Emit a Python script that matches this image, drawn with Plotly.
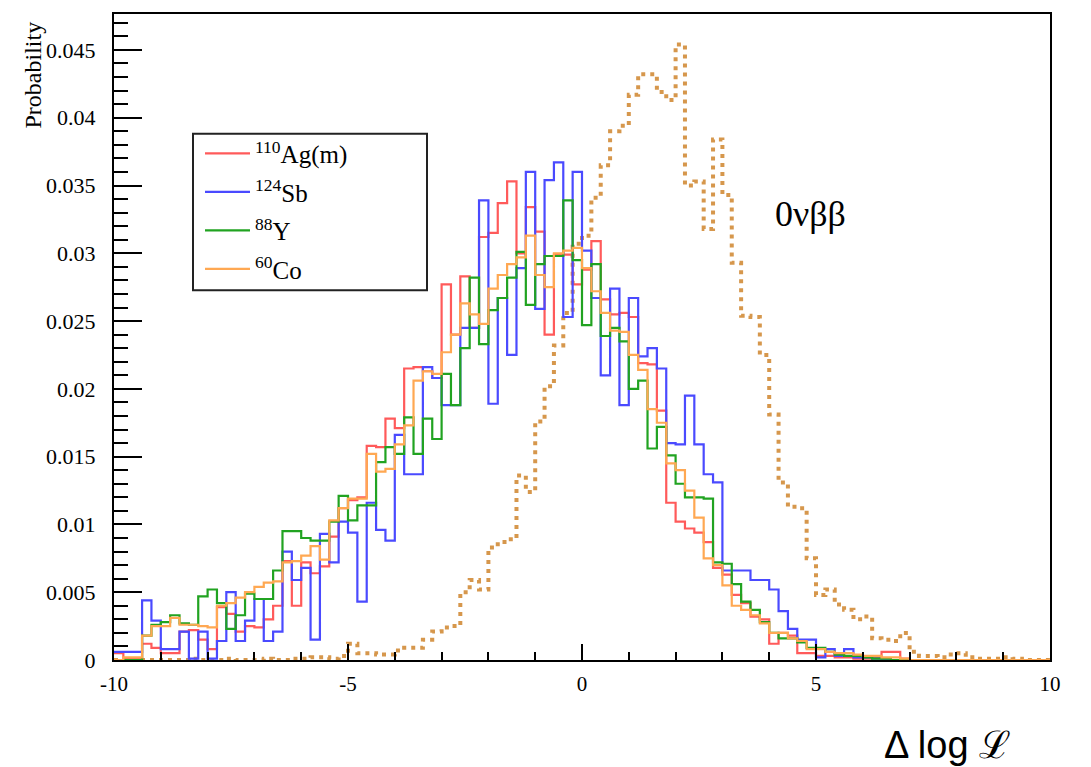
import numpy as np
import plotly.graph_objects as go

# Binning of the Delta log L histograms
BIN_LO, BIN_HI, N_BINS = -10.0, 10.0, 100
bin_edges = np.linspace(BIN_LO, BIN_HI, N_BINS + 1)

# Bin contents in per-mille (probability x 1000), one value per 0.2-wide bin
ag110m = [0.5, 0.1, 0.1, 1.2, 0.9, 0.5, 0.5, 2.1, 2.2, 1.5,
          0.8, 3.9, 3.4, 2.1, 2.5, 2.4, 3.0, 4.0, 7.3, 4.0,
          7.2, 6.4, 6.9, 9.1, 11.2, 11.8, 12.0, 15.8, 15.7, 17.8,
          17.1, 21.5, 21.6, 21.3, 20.8, 27.7, 24.0, 28.3, 24.5, 31.2,
          31.5, 33.7, 35.3, 30.0, 33.4, 31.6, 24.0, 29.9, 29.9, 27.7,
          28.8, 30.9, 26.6, 25.5, 25.6, 25.3, 21.9, 21.8, 18.4, 11.6,
          10.2, 9.7, 9.4, 8.7, 6.8, 6.3, 4.8, 4.2, 3.2, 3.0,
          1.2, 2.0, 1.8, 0.5, 0.5, 0.3, 0.3, 0.2, 0.2, 0.1,
          0.1, 0.2, 0.6, 0.6, 0.1, 0.0, 0.0, 0.0, 0.0, 0.0,
          0.0, 0.0, 0.0, 0.0, 0.0, 0.0, 0.0, 0.0, 0.0, 0.0]

sb124 = [0.6, 0.6, 0.6, 4.4, 2.9, 0.8, 0.8, 2.1, 0.1, 2.1,
         0.1, 1.4, 5.0, 1.4, 2.9, 4.5, 1.4, 2.1, 8.0, 5.9,
         6.8, 1.5, 9.3, 7.2, 10.2, 9.4, 4.3, 11.6, 9.6, 8.8,
         16.6, 13.7, 13.7, 21.6, 20.8, 18.8, 18.8, 24.5, 24.5, 33.9,
         18.9, 26.7, 22.5, 28.9, 36.0, 25.9, 35.4, 36.7, 25.3, 36.0,
         30.2, 26.7, 21.0, 27.4, 18.8, 26.7, 22.4, 23.0, 21.5, 16.0,
         15.9, 19.5, 15.9, 13.7, 13.1, 6.6, 6.6, 6.6, 5.9, 5.9,
         5.2, 3.6, 2.3, 1.5, 1.5, 0.2, 0.8, 0.3, 0.8, 0.2,
         0.2, 0.1, 0.0, 0.0, 0.0, 0.0, 0.0, 0.0, 0.0, 0.0,
         0.0, 0.0, 0.0, 0.0, 0.0, 0.0, 0.0, 0.0, 0.0, 0.0]

y88 = [0.0, 0.0, 0.0, 1.8, 2.6, 2.8, 3.3, 2.7, 2.6, 4.7,
       5.2, 4.2, 2.3, 3.3, 4.9, 4.5, 4.5, 6.6, 9.5, 9.5,
       9.0, 8.8, 8.8, 10.2, 12.1, 10.3, 11.4, 11.4, 14.6, 15.7,
       15.2, 17.9, 15.2, 17.8, 16.3, 21.1, 18.8, 23.0, 28.2, 23.3,
       25.8, 26.7, 28.2, 30.1, 26.2, 29.2, 29.8, 29.8, 33.9, 29.5,
       24.7, 29.2, 23.9, 24.5, 23.5, 20.0, 20.6, 15.6, 17.2, 15.1,
       13.0, 12.0, 12.0, 11.9, 7.2, 7.1, 5.6, 4.3, 3.7, 2.8,
       2.0, 1.6, 1.6, 1.3, 0.9, 0.9, 0.6, 0.4, 0.3, 0.3,
       0.2, 0.1, 0.1, 0.0, 0.0, 0.0, 0.0, 0.0, 0.0, 0.0,
       0.0, 0.0, 0.0, 0.0, 0.0, 0.0, 0.0, 0.0, 0.0, 0.0]

co60 = [0.0, 0.2, 0.2, 1.8, 2.5, 2.5, 3.1, 2.6, 2.6, 2.5,
        2.4, 4.0, 4.2, 4.6, 5.0, 5.4, 5.7, 5.8, 7.2, 7.3,
        7.7, 8.4, 7.4, 10.3, 11.2, 11.9, 11.9, 15.2, 13.9, 14.1,
        15.9, 17.3, 20.6, 21.3, 21.1, 22.7, 24.0, 26.3, 25.5, 24.8,
        27.4, 28.4, 29.2, 29.7, 31.3, 28.4, 27.5, 30.0, 30.2, 30.4,
        28.9, 27.2, 25.6, 24.3, 24.2, 22.5, 21.4, 18.5, 17.5, 14.5,
        14.0, 12.5, 10.5, 7.5, 7.0, 5.5, 4.0, 3.7, 3.3, 2.7,
        2.0, 2.0, 1.6, 1.4, 0.8, 0.8, 0.6, 0.5, 0.5, 0.4,
        0.3, 0.3, 0.2, 0.2, 0.1, 0.0, 0.0, 0.0, 0.0, 0.0,
        0.0, 0.0, 0.0, 0.0, 0.0, 0.0, 0.0, 0.0, 0.0, 0.0]

signal_0vbb = [0.0, 0.0, 0.0, 0.0, 0.0, 0.0, 0.0, 0.0, 0.1, 0.0,
               0.0, 0.0, 0.1, 0.0, 0.0, 0.0, 0.1, 0.0, 0.0, 0.1,
               0.1, 0.2, 0.2, 0.1, 0.3, 1.2, 0.5, 0.5, 0.4, 0.4,
               0.7, 0.9, 0.9, 1.5, 2.1, 2.4, 2.5, 5.0, 5.9, 5.2,
               8.3, 8.7, 8.9, 13.6, 12.4, 17.6, 20.2, 23.2, 25.6, 30.7,
               31.3, 34.1, 36.5, 39.0, 39.4, 41.7, 43.2, 43.2, 41.9, 41.3,
               45.4, 35.0, 35.3, 31.8, 38.4, 34.3, 29.3, 25.4, 25.3, 22.5,
               18.1, 13.1, 11.3, 11.2, 7.5, 4.8, 5.2, 4.1, 3.7, 3.0,
               3.2, 1.6, 1.5, 1.4, 2.0, 0.6, 0.3, 0.3, 0.2, 0.4,
               0.5, 0.2, 0.1, 0.1, 0.1, 0.2, 0.1, 0.0, 0.0, 0.0]

PER_MILLE = 1e-3

series = [
    ("<sup>110</sup>Ag(m)", ag110m, "#ff5a5a"),
    ("<sup>124</sup>Sb", sb124, "#4a4aff"),
    ("<sup>88</sup>Y", y88, "#21a321"),
    ("<sup>60</sup>Co", co60, "#ffa852"),
]

y_ticks = [0, 0.005, 0.01, 0.015, 0.02, 0.025, 0.03, 0.035, 0.04, 0.045]
y_tick_text = ["0", "0.005", "0.01", "0.015", "0.02", "0.025", "0.03", "0.035", "0.04", "0.045"]
x_ticks = [-10, -5, 0, 5, 10]
x_tick_text = ["-10", "-5", "0", "5", "10"]

SERIF = "Liberation Serif"


def step_xy(values):
    """Histogram outline: left edge of every bin plus the closing right edge."""
    vals = np.asarray(values, dtype=float) * PER_MILLE
    return bin_edges, np.append(vals, vals[-1])


fig = go.Figure()

sx, sy = step_xy(signal_0vbb)
fig.add_trace(go.Scatter(
    x=sx, y=sy, mode="lines", line=dict(shape="hv", color="#d6974c", width=4, dash="4px,5px"),
    showlegend=False, hoverinfo="skip"))

for i, (name, vals, color) in enumerate(series):
    hx, hy = step_xy(vals)
    fig.add_trace(go.Scatter(
        x=hx, y=hy, mode="lines", name=name, legendgroup=f"g{i}",
        line=dict(shape="hv", color=color, width=2.2)))

# Legend frame
fig.add_shape(type="rect", xref="paper", yref="paper",
              x0=(193 - 114) / 936, x1=(427 - 114) / 936,
              y0=(660 - 289) / 648, y1=(660 - 132) / 648,
              line=dict(color="#222222", width=2), fillcolor="white", layer="above")

fig.add_annotation(text="0νββ", x=4.08, y=0.0329, xref="x", yref="y",
                   xanchor="left", yanchor="middle", showarrow=False,
                   font=dict(family=SERIF, size=36, color="black"))

fig.add_annotation(text="Probability", xref="paper", yref="paper",
                   x=(33 - 114) / 936, y=(660 - 18) / 648, textangle=-90,
                   xanchor="center", yanchor="top", showarrow=False,
                   font=dict(family=SERIF, size=24, color="black"))

fig.add_annotation(text="Δ log ℒ", xref="paper", yref="paper",
                   x=(947 - 114) / 936, y=(660 - 745) / 648,
                   xanchor="center", yanchor="middle", showarrow=False,
                   font=dict(family="Liberation Sans, Arial, sans-serif", size=38, color="black"))

fig.update_layout(
    width=1091, height=767,
    margin=dict(l=114, r=41, t=12, b=107),
    paper_bgcolor="white", plot_bgcolor="white",
    showlegend=True,
    legend=dict(x=(200 - 114) / 936, y=(660 - 129) / 648, xanchor="left", yanchor="top",
                bgcolor="rgba(0,0,0,0)", borderwidth=0, tracegroupgap=3, itemwidth=45,
                font=dict(family=SERIF, size=25, color="black")),
    xaxis=dict(range=[BIN_LO, BIN_HI], showgrid=False, zeroline=False,
               showline=True, linecolor="black", linewidth=2, mirror=True,
               ticks="inside", ticklen=16, tickwidth=2, tickcolor="black",
               tickvals=x_ticks, ticktext=x_tick_text, ticklabelstandoff=4,
               minor=dict(ticks="inside", ticklen=8, tickwidth=2, tickcolor="black", dtick=1),
               tickfont=dict(family=SERIF, size=21, color="black")),
    yaxis=dict(range=[0, 0.04765], showgrid=False, zeroline=False,
               showline=True, linecolor="black", linewidth=2, mirror=True,
               ticks="inside", ticklen=28, tickwidth=2, tickcolor="black",
               tickvals=y_ticks, ticktext=y_tick_text, ticklabelstandoff=12,
               minor=dict(ticks="inside", ticklen=14, tickwidth=2, tickcolor="black", dtick=0.001),
               tickfont=dict(family=SERIF, size=22, color="black")),
)

fig.write_html("out.html")
